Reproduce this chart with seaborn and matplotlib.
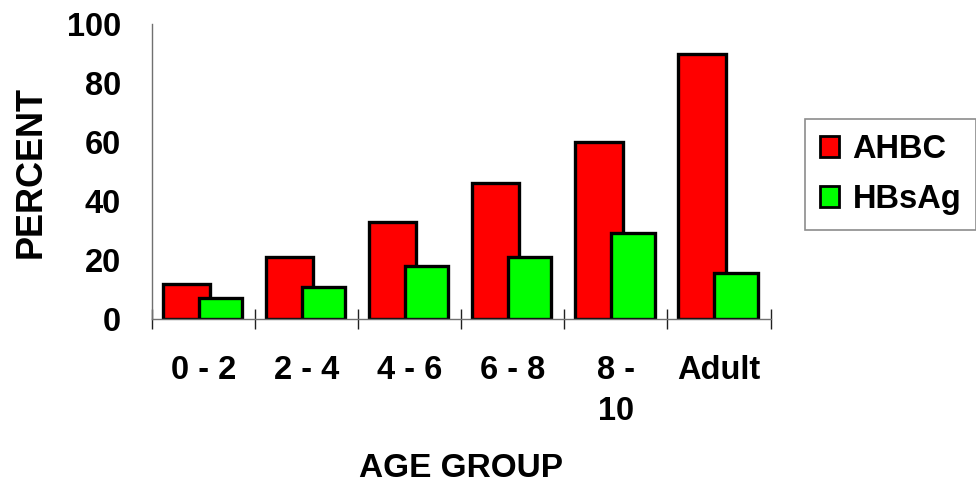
import numpy as np
import pandas as pd
import matplotlib
matplotlib.use("Agg")
import matplotlib.pyplot as plt
import seaborn as sns

# values
age_groups = ["0 - 2", "2 - 4", "4 - 6", "6 - 8", "8 -\n10", "Adult"]
ahbc = [12, 21, 33, 46, 60, 90]
hbsag = [7, 11, 18, 21, 29, 15.5]
series = ["AHBC", "HBsAg"]
colors = ["#ff0000", "#00ff00"]

df = pd.DataFrame({
    "group": age_groups * 2,
    "percent": ahbc + hbsag,
    "marker": [series[0]] * len(ahbc) + [series[1]] * len(hbsag),
})

sns.set_theme(style="white")
plt.rcParams["font.family"] = ["Liberation Sans", "DejaVu Sans"]
plt.rcParams["text.color"] = "black"
plt.rcParams["axes.labelcolor"] = "black"
plt.rcParams["xtick.color"] = "black"
plt.rcParams["ytick.color"] = "black"

fig = plt.figure(figsize=(9.76, 4.84), dpi=100)
ax = fig.add_axes([0.1554, 0.3409, 0.6342, 0.6095])

sns.barplot(data=df, x="group", y="percent", hue="marker", palette=colors,
            saturation=1, width=0.66, edgecolor="black", linewidth=2.4, ax=ax)

# widen the dodged bars so the pairs overlap like the original
for cont, w in zip(ax.containers, [0.46, 0.42]):
    for p in cont:
        cx = p.get_x() + p.get_width() / 2
        p.set_width(w)
        p.set_x(cx - w / 2)

ax.set_xlim(-0.5, len(age_groups) - 0.5)
ax.set_ylim(0, 100)
ax.set_yticks(range(0, 101, 20))
ax.set_xticks(np.arange(-0.5, len(age_groups), 1), minor=True)

for s in ["top", "right"]:
    ax.spines[s].set_visible(False)
for s in ["left", "bottom"]:
    ax.spines[s].set_color("#707070")
    ax.spines[s].set_linewidth(1.0)

ax.tick_params(axis="y", which="major", direction="inout", length=14.4, width=1,
               color="#202020", labelcolor="black", pad=15, labelsize=23.5)
ax.tick_params(axis="x", which="major", length=0, pad=26, labelsize=23.5,
               labelcolor="black")
ax.tick_params(axis="x", which="minor", direction="inout", length=14.4, width=1,
               color="#202020", bottom=True)
for lab in ax.get_xticklabels() + ax.get_yticklabels():
    lab.set_fontweight("bold")
    lab.set_linespacing(1.42)

ax.set_xlabel("AGE GROUP", fontsize=24, fontweight="bold", color="black")
ax.set_ylabel("PERCENT", fontsize=26, fontweight="bold", color="black")
ax.xaxis.set_label_coords(0.5, -0.455)
ax.yaxis.set_label_coords(-0.166, 0.5)

sns.move_legend(ax, "upper left", bbox_to_anchor=(0.825, 0.754),
                bbox_transform=fig.transFigure, title=None, frameon=True,
                fancybox=False, edgecolor="#707070", borderaxespad=0,
                prop={"weight": "bold", "size": 23.5},
                handlelength=0.6, handleheight=0.6, handletextpad=0.4,
                labelspacing=0.6, borderpad=0.45)
leg = ax.get_legend()
leg.get_frame().set_linewidth(1.2)
for t in leg.get_texts():
    t.set_color("black")
for h in leg.legend_handles:
    h.set_edgecolor("black")
    h.set_linewidth(2)

fig.savefig("out.png", dpi=100)
